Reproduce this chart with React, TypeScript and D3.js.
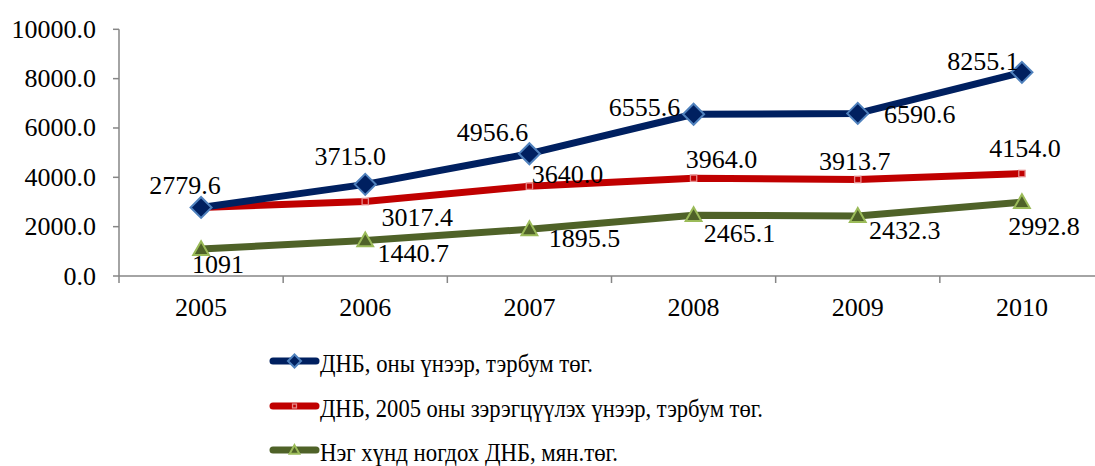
import React from "react";
import * as d3 from "d3";

const years = ["2005", "2006", "2007", "2008", "2009", "2010"];
const gdpCurrent = [2779.6, 3715.0, 4956.6, 6555.6, 6590.6, 8255.1];
const gdpConstant = [2779.6, 3017.4, 3640.0, 3964.0, 3913.7, 4154.0];
const gdpPerCapita = [1091, 1440.7, 1895.5, 2465.1, 2432.3, 2992.8];
const labelsCurrent = ["2779.6", "3715.0", "4956.6", "6555.6", "6590.6", "8255.1"];
const labelsConstant = ["", "3017.4", "3640.0", "3964.0", "3913.7", "4154.0"];
const labelsPerCapita = ["1091", "1440.7", "1895.5", "2465.1", "2432.3", "2992.8"];
const yTicks = [0, 2000, 4000, 6000, 8000, 10000];
const seriesNames = [
  "ДНБ, оны үнээр, тэрбум төг.",
  "ДНБ, 2005 оны зэрэгцүүлэх үнээр, тэрбум төг.",
  "Нэг хүнд ногдох ДНБ, мян.төг.",
];

// label offsets (layout): [dx, dy of baseline] relative to point
const offCurrent = [[-16, -13], [-15, -19], [-37, -13], [-49, 2], [62, 10], [-39, -2]];
const offConstant = [[0, 0], [52, 24], [38, -3], [28, -10], [-3, -9], [3, -17]];
const offPerCapita = [[17, 24], [48, 22], [55, 18], [46, 27], [47, 23], [22, 33]];
const legendTextWidths = [273, 443, 298];

const W = 1095, H = 466;
const axisX = 119, axisRight = 1104;
const yTop = 29.3, yBottom = 276;

function T(props: any) {
  const { children, ...rest } = props;
  return (
    <text fontFamily="Liberation Serif" fontSize={26} fill="#000"
      style={{ fontFamily: "Liberation Serif", fontSize: 26 }} {...rest}>
      {children}
    </text>
  );
}

export default function App() {
  const x = d3.scaleBand<string>().domain(years).range([axisX, axisRight]);
  const y = d3.scaleLinear().domain([0, 10000]).range([yBottom, yTop]);
  const cx = (yr: string) => (x(yr) as number) + x.bandwidth() / 2;
  const line = d3.line<number>().x((_, i) => cx(years[i])).y((d) => y(d));

  const series = [
    { vals: gdpCurrent, labels: labelsCurrent, off: offCurrent, color: "#002060", marker: "diamond" },
    { vals: gdpConstant, labels: labelsConstant, off: offConstant, color: "#c00000", marker: "square" },
    { vals: gdpPerCapita, labels: labelsPerCapita, off: offPerCapita, color: "#4f6228", marker: "triangle" },
  ];

  const marker = (type: string, px: number, py: number, s: number, key?: any) => {
    if (type === "diamond") {
      const r = s;
      return (
        <path key={key} d={`M${px},${py - r}L${px + r},${py}L${px},${py + r}L${px - r},${py}Z`}
          fill="#002060" stroke="#4f81bd" strokeWidth={2} />
      );
    }
    if (type === "square") {
      const r = s * 0.3;
      return <rect key={key} x={px - r} y={py - r} width={2 * r} height={2 * r} fill="#c00000" stroke="#e6898a" strokeWidth={1.3} />;
    }
    const r = s * 0.75;
    return (
      <path key={key} d={`M${px},${py - r}L${px + r},${py + r * 0.75}L${px - r},${py + r * 0.75}Z`}
        fill="#4f6228" stroke="#9bbb59" strokeWidth={2} />
    );
  };

  const ticksX = [...years.map((yr) => x(yr) as number), axisRight];
  const legendY = [361, 406, 450];

  return (
    <svg width={W} height={H} style={{ display: "block", position: "absolute", left: 0, top: 0 }}>
      <rect width={W} height={H} fill="#fff" />
      <line x1={axisX} x2={axisX} y1={yTop} y2={yBottom} stroke="#868686" strokeWidth={1.5} />
      {yTicks.map((t) => (
        <g key={t}>
          <line x1={axisX - 6} x2={axisX} y1={y(t)} y2={y(t)} stroke="#868686" strokeWidth={1.5} />
          <T x={96} y={y(t) + 8.5} textAnchor="end">{t.toFixed(1)}</T>
        </g>
      ))}
      <line x1={axisX} x2={axisRight} y1={yBottom} y2={yBottom} stroke="#868686" strokeWidth={1.5} />
      {ticksX.map((t, i) => (
        <line key={i} x1={t} x2={t} y1={yBottom} y2={yBottom + 7} stroke="#868686" strokeWidth={1.5} />
      ))}
      {years.map((yr) => (
        <T key={yr} x={cx(yr)} y={316} textAnchor="middle">{yr}</T>
      ))}
      {series.slice().reverse().map((s, si) => (
        <path key={si} d={line(s.vals) || ""} fill="none" stroke={s.color} strokeWidth={7} strokeLinejoin="round" />
      ))}
      {series.slice().reverse().map((s, si) => (
        <g key={si}>{s.vals.map((v, i) => marker(s.marker, cx(years[i]), y(v), 10.5, i))}</g>
      ))}
      {series.map((s, si) => (
        <g key={si}>
          {s.vals.map((v, i) => s.labels[i] ? (
            <T key={i} x={cx(years[i]) + s.off[i][0]} y={y(v) + s.off[i][1]} textAnchor="middle">
              {s.labels[i]}
            </T>
          ) : null)}
        </g>
      ))}
      {series.map((s, si) => (
        <g key={si}>
          <line x1={273} x2={316} y1={legendY[si]} y2={legendY[si]} stroke={s.color} strokeWidth={7} strokeLinecap="round" />
          {marker(s.marker, 294.5, legendY[si], 6.5)}
          <T x={320} y={legendY[si] + 11} textLength={legendTextWidths[si]} lengthAdjust="spacingAndGlyphs">{seriesNames[si]}</T>
        </g>
      ))}
    </svg>
  );
}
